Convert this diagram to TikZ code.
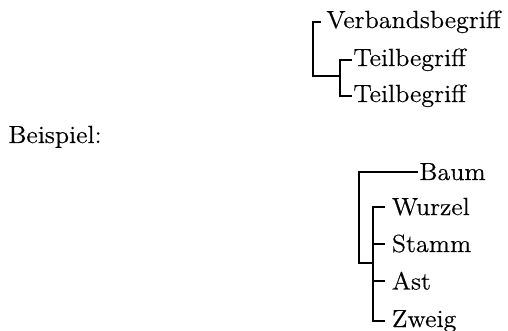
\documentclass[tikz,border=0pt]{standalone}
\usepackage{fontspec}
\setmainfont{Latin Modern Roman}[FakeStretch=1.05,FakeBold=0.4]
\begin{document}
\begin{tikzpicture}[x=0.5pt,y=-0.5pt,
  lbl/.style={anchor=base west,inner sep=0pt,font=\fontsize{12.4pt}{15pt}\selectfont},
  tree/.style={line width=1pt}]
\useasboundingbox (0,0) rectangle (508,331);
% upper scheme
\node[lbl] (vb) at (326,28) {Verbandsbegriff};
\node[lbl] (t1) at (353,66) {Teilbegriff};
\node[lbl] (t2) at (353,102) {Teilbegriff};
\coordinate (j1) at (313,76);
\coordinate (k1) at (340,76);
\draw[tree] ([xshift=-2.6pt]vb.west) -| (j1) -- (k1);
\draw[tree] ([xshift=-0.5pt]t1.west) -| (k1) |- ([xshift=-0.5pt]t2.west);
% example
\node[lbl] (bsp) at (8,143) {Beispiel:};
\node[lbl] (baum) at (419,180) {Baum};
\node[lbl] (wurzel) at (391.5,215) {Wurzel};
\node[lbl] (stamm) at (391.5,252) {Stamm};
\node[lbl] (ast) at (391.5,289.5) {Ast};
\node[lbl] (zweig) at (391.5,327) {Zweig};
\coordinate (j2) at (359,263);
\coordinate (k2) at (373,263);
\draw[tree] ([xshift=-0.5pt]baum.west) -| (j2) -- (k2);
\draw[tree] ([xshift=-3.5pt]wurzel.west) -| (k2) |- ([xshift=-3.5pt]zweig.west);
\draw[tree] ([xshift=-3.5pt]stamm.west) -- (stamm.west -| k2);
\draw[tree] ([xshift=-3.5pt]ast.west) -- (ast.west -| k2);
\end{tikzpicture}
\end{document}
